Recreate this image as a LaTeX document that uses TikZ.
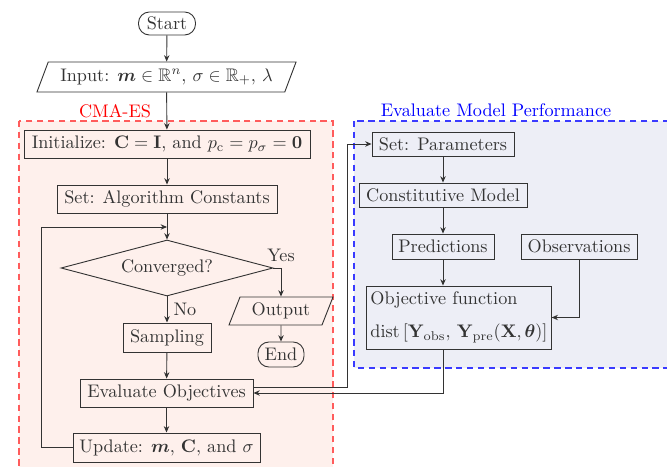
\documentclass[tikz,border=0pt]{standalone}
\usepackage{amsmath,amssymb,bm}
\usetikzlibrary{shapes.geometric,arrows.meta,calc,backgrounds}
\definecolor{inkgray}{HTML}{333333}
\definecolor{cmafill}{HTML}{FEF0EC}
\definecolor{cmaedge}{HTML}{FF5C5C}
\definecolor{evalfill}{HTML}{EDEEF6}
\definecolor{evaledge}{HTML}{3A3AFF}
\tikzset{
  flow/.style={draw=inkgray, text=inkgray, line width=0.5pt, inner sep=2pt},
  procbox/.style={flow, rectangle},
  termbox/.style={flow, rectangle, rounded corners=6pt},
  iobox/.style={flow, trapezium, trapezium left angle=65, trapezium right angle=115,
    trapezium stretches body},
  decbox/.style={flow, diamond, inner sep=0pt, aspect=3.79},
  conn/.style={draw=inkgray, line width=0.5pt, -{Stealth[length=3.5pt,width=3pt]}},
  region/.style={line width=0.9pt, dash pattern=on 3.5pt off 2.5pt},
  regionlabel/.style={font=\normalsize},
}
\begin{document}
\begin{tikzpicture}[x=0.55pt, y=-0.55pt]
\useasboundingbox (0,0) rectangle (667,467);
\clip (0,0) rectangle (667,467);

% group backgrounds
\path[region, draw=cmaedge, fill=cmafill] (19,121) rectangle (333,490);
\path[region, draw=evaledge, fill=evalfill] (354,121) rectangle (690,368);
\node[regionlabel, text=red] (cmalabel) at (115,111) {CMA-ES};
\node[regionlabel, text=blue] (evallabel) at (496,110) {Evaluate Model Performance};

% CMA-ES flow
\node[termbox, minimum width=31.35pt, minimum height=12.65pt] (start) at (167,23.5) {Start};
\node[iobox, minimum width=142.5pt, minimum height=16.5pt] (input) at (166.5,77)
  {Input: $\bm{m}\in\mathbb{R}^n$, $\sigma\in\mathbb{R}_+$, $\lambda$};
\node[procbox, minimum width=157.3pt, minimum height=15.4pt] (init) at (167,144)
  {Initialize: $\mathbf{C}=\mathbf{I}$, and $p_{\mathrm{c}}=p_\sigma=\mathbf{0}$};
\node[procbox, minimum width=121pt, minimum height=15.4pt] (setc) at (167,199)
  {Set: Algorithm Constants};
\node[decbox, minimum width=116.6pt, minimum height=30.8pt] (conv) at (167,268) {Converged?};
\node[iobox, minimum width=57.2pt, minimum height=15.4pt] (output) at (281,311) {Output};
\node[termbox, minimum width=25.3pt, minimum height=13.75pt] (endn) at (281,354.5) {End};
\node[procbox, minimum width=48.4pt, minimum height=16pt] (samp) at (167,337.5) {Sampling};
\node[procbox, minimum width=95.15pt, minimum height=15.4pt] (evalo) at (166.5,393)
  {Evaluate Objectives};
\node[procbox, minimum width=102.85pt, minimum height=16pt] (upd) at (166.5,447.5)
  {Update: $\bm{m}$, $\mathbf{C}$, and $\sigma$};

% model evaluation flow
\node[procbox, minimum width=78.1pt, minimum height=13.2pt] (setp) at (443,144) {Set: Parameters};
\node[procbox, minimum width=92.4pt, minimum height=13.2pt] (const) at (443,195) {Constitutive Model};
\node[procbox, minimum width=56.1pt, minimum height=13.75pt] (pred) at (443,246.5) {Predictions};
\node[procbox, minimum width=63.8pt, minimum height=13.75pt] (obs) at (579,246.5) {Observations};
\node[procbox, minimum width=101.2pt, minimum height=34.65pt, align=left] (objf) at (459,317.5)
  {Objective function\\[6pt]
   $\mathrm{dist}\left[\mathbf{Y}_{\mathrm{obs}},\,\mathbf{Y}_{\mathrm{pre}}(\mathbf{X},\bm{\theta})\right]$};

% connectors
\coordinate (join) at (167,227);
\coordinate (busR) at (347,387);
\draw[conn] (start) -- (input);
\draw[conn] (input) -- (init);
\draw[conn] (init) -- (setc);
\draw[conn] (setc) -- (conv);
\draw[conn] (conv.east) -| node[pos=0.5, above, text=inkgray] {Yes} (output.north);
\draw[conn] (conv.south) -- node[right, text=inkgray] {No} (samp.north);
\draw[conn] (output) -- (endn);
\draw[conn] (samp) -- (evalo);
\draw[conn] (evalo) -- (upd);
\draw[conn] (upd.west) -- ++(-31,0) |- (join);
\draw[conn] (evalo.east |- busR) -- (busR) |- (setp.west);
\draw[conn] (setp) -- (const);
\draw[conn] (const) -- (pred);
\draw[conn] (pred) -- (pred |- objf.north);
\draw[conn] (obs.south) |- (objf.east);
\draw[conn] (pred.south |- objf.south) |- (evalo.east);
\end{tikzpicture}
\end{document}
